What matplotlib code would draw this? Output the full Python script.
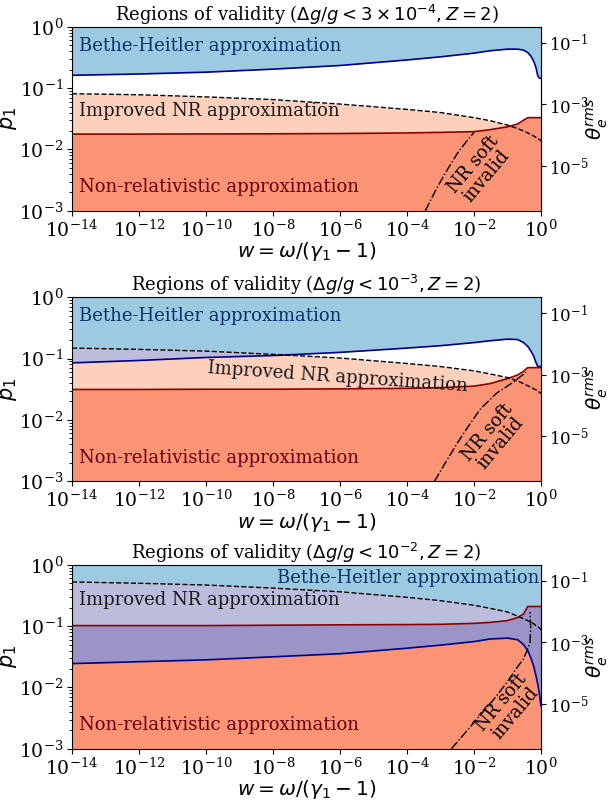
import numpy as np
import matplotlib
matplotlib.use("Agg")
import matplotlib.pyplot as plt
from matplotlib.ticker import NullLocator

# common w grid, one per panel
w_grid = [1e-14, 1e-12, 1e-10, 1e-8, 1e-6, 1e-4, 1e-3, 1e-2, 3e-2, 0.1,
          0.2, 0.3, 0.4, 0.5, 0.6, 0.7, 0.8, 0.9, 1.0]

titles = [r"Regions of validity ($\Delta g/g < 3\times10^{-4}, Z=2$)",
          r"Regions of validity ($\Delta g/g < 10^{-3}, Z=2$)",
          r"Regions of validity ($\Delta g/g < 10^{-2}, Z=2$)"]

# Bethe-Heitler boundary (blue)
bh_1 = [0.162, 0.170, 0.182, 0.204, 0.234, 0.288, 0.324, 0.372, 0.407, 0.432,
        0.432, 0.417, 0.380, 0.331, 0.275, 0.219, 0.158, 0.145, 0.145]
bh_2 = [0.085, 0.093, 0.104, 0.112, 0.126, 0.148, 0.162, 0.182, 0.195, 0.207,
        0.204, 0.182, 0.158, 0.132, 0.110, 0.087, 0.074, 0.074, 0.074]
bh_3 = [0.0245, 0.0263, 0.0282, 0.0316, 0.0355, 0.0437, 0.049, 0.056, 0.0617,
        0.0638, 0.060, 0.050, 0.040, 0.030, 0.0224, 0.0158, 0.0112, 0.0076, 0.005]

# improved NR boundary (dashed)
inr_1 = [0.081, 0.078, 0.072, 0.065, 0.055, 0.045, 0.040, 0.033, 0.0295, 0.025,
         0.0219, 0.020, 0.0186, 0.0174, 0.0166, 0.0158, 0.0151, 0.0145, 0.0138]
inr_2 = [0.148, 0.141, 0.132, 0.117, 0.102, 0.083, 0.074, 0.063, 0.056, 0.049,
         0.043, 0.039, 0.036, 0.034, 0.032, 0.031, 0.0295, 0.028, 0.027]
inr_3 = [0.525, 0.50, 0.468, 0.417, 0.363, 0.295, 0.26, 0.219, 0.195, 0.170,
         0.145, 0.132, 0.123, 0.115, 0.110, 0.102, 0.098, 0.093, 0.087]

# non-relativistic boundary (red)
nr_1 = [0.0178, 0.0178, 0.0179, 0.018, 0.0182, 0.0186, 0.019, 0.0195, 0.021, 0.0234,
        0.026, 0.030, 0.033, 0.033, 0.033, 0.033, 0.033, 0.033, 0.033]
nr_2 = [0.0313, 0.0313, 0.0316, 0.0316, 0.032, 0.0327, 0.0335, 0.0355, 0.039, 0.047,
        0.054, 0.062, 0.071, 0.071, 0.071, 0.071, 0.071, 0.071, 0.071]
nr_3 = [0.102, 0.102, 0.102, 0.1035, 0.105, 0.106, 0.107, 0.111, 0.115, 0.123,
        0.138, 0.158, 0.209, 0.209, 0.209, 0.209, 0.209, 0.209, 0.209]

# NR soft invalid boundary (dash-dot)
soft_w_1 = [3.5e-4, 7.9e-4, 1.6e-3, 3.2e-3, 5.6e-3, 1e-2]
soft_p_1 = [1e-3, 2.4e-3, 4.7e-3, 8.7e-3, 1.3e-2, 1.9e-2]
soft_w_2 = [6.6e-4, 1.4e-3, 3.0e-3, 6.8e-3, 1.5e-2, 4.8e-2, 0.148, 0.355]
soft_p_2 = [1e-3, 2.0e-3, 4.0e-3, 7.9e-3, 1.48e-2, 2.75e-2, 4.1e-2, 6.0e-2]
soft_w_3 = [2.1e-3, 5.6e-3, 1.5e-2, 3.8e-2, 9.5e-2, 0.178, 0.295, 0.398, 0.468, 0.49, 0.47]
soft_p_3 = [1e-3, 1.86e-3, 3.5e-3, 6.3e-3, 1.2e-2, 2.0e-2, 2.9e-2, 4.2e-2, 5.4e-2, 0.1, 0.17]

panels = [
    dict(bh=bh_1, inr=inr_1, nr=nr_1, sw=soft_w_1, sp=soft_p_1,
         bh_txt=(0.016, 0.897, "left"), inr_txt=(0.016, 0.543, 0), soft_txt=(0.87, 0.22)),
    dict(bh=bh_2, inr=inr_2, nr=nr_2, sw=soft_w_2, sp=soft_p_2,
         bh_txt=(0.016, 0.897, "left"), inr_txt=(0.29, 0.616, -4), soft_txt=(0.90, 0.235)),
    dict(bh=bh_3, inr=inr_3, nr=nr_3, sw=soft_w_3, sp=soft_p_3,
         bh_txt=(0.996, 0.928, "right"), inr_txt=(0.016, 0.806, 0), soft_txt=(0.93, 0.223)),
]

plt.rcParams["font.family"] = "serif"
plt.rcParams["mathtext.fontset"] = "dejavusans"

c_bh = "#9ecae1"
c_inr = "#fdd0bc"
c_nr = "#fb9474"
c_mix1 = "#bcbddc"
c_mix2 = "#9a95c6"

fig = plt.figure(figsize=(6.1, 8), dpi=100)
bottoms = [0.7365, 0.3985, 0.064]

w = np.array(w_grid)
for k, pan in enumerate(panels):
    ax = fig.add_axes([0.118, bottoms[k], 0.769, 0.23])
    bh = np.array(pan["bh"])
    inr = np.array(pan["inr"])
    nr = np.array(pan["nr"])
    ax.fill_between(w, bh, 1, color=c_bh, lw=0)
    ax.fill_between(w, 1e-3, inr, color=c_inr, lw=0)
    ax.fill_between(w, 1e-3, nr, color=c_nr, lw=0)
    ax.fill_between(w, bh, inr, where=inr > bh, interpolate=True, color=c_mix1, lw=0)
    ax.fill_between(w, bh, nr, where=nr > bh, interpolate=True, color=c_mix2, lw=0)
    ax.plot(w, bh, color="darkblue", lw=1.2)
    ax.plot(w, nr, color="darkred", lw=1.2)
    ax.plot(w, inr, color="k", ls="--", lw=1.0)
    ax.plot(pan["sw"], pan["sp"], color="k", ls="-.", lw=1.0)

    ax.set_xscale("log")
    ax.set_yscale("log")
    ax.set_xlim(1e-14, 1)
    ax.set_ylim(1e-3, 1)
    ax.set_xticks([1e-14, 1e-12, 1e-10, 1e-8, 1e-6, 1e-4, 1e-2, 1])
    ax.xaxis.set_minor_locator(NullLocator())
    ax.tick_params(labelsize=13.5, pad=2.5)
    ax.set_title(titles[k], fontsize=13, pad=3)
    ax.set_xlabel(r"$w = \omega/(\gamma_1 - 1)$", fontsize=14.5, labelpad=0)
    ax.set_ylabel(r"$p_1$", fontsize=15, labelpad=0)

    tx, ty, ha = pan["bh_txt"]
    ax.text(tx, ty, "Bethe-Heitler approximation", transform=ax.transAxes,
            ha=ha, va="center", fontsize=13, color="#08306b")
    tx, ty, rot = pan["inr_txt"]
    ax.text(tx, ty, "Improved NR approximation", transform=ax.transAxes,
            ha="left", va="center", fontsize=13, color="#1a1a1a", rotation=rot,
            rotation_mode="anchor")
    ax.text(0.016, 0.127, "Non-relativistic approximation", transform=ax.transAxes,
            ha="left", va="center", fontsize=13, color="#67000d")
    tx, ty = pan["soft_txt"]
    ax.text(tx, ty, "NR soft\ninvalid", transform=ax.transAxes, ha="center",
            va="center", fontsize=13, rotation=50, linespacing=0.95)

    sec = ax.secondary_yaxis("right", functions=(lambda p: p ** 2 / 3.0,
                                                 lambda t: np.sqrt(3.0 * np.abs(t))))
    sec.set_yticks([1e-1, 1e-3, 1e-5])
    sec.yaxis.set_minor_locator(NullLocator())
    sec.tick_params(labelsize=12, pad=2)
    sec.set_ylabel(r"$\theta_e^{rms}$", fontsize=14.5)
    sec.yaxis.set_label_coords(1.092, 0.5, transform=ax.transAxes)

fig.savefig("out.png", dpi=100)
